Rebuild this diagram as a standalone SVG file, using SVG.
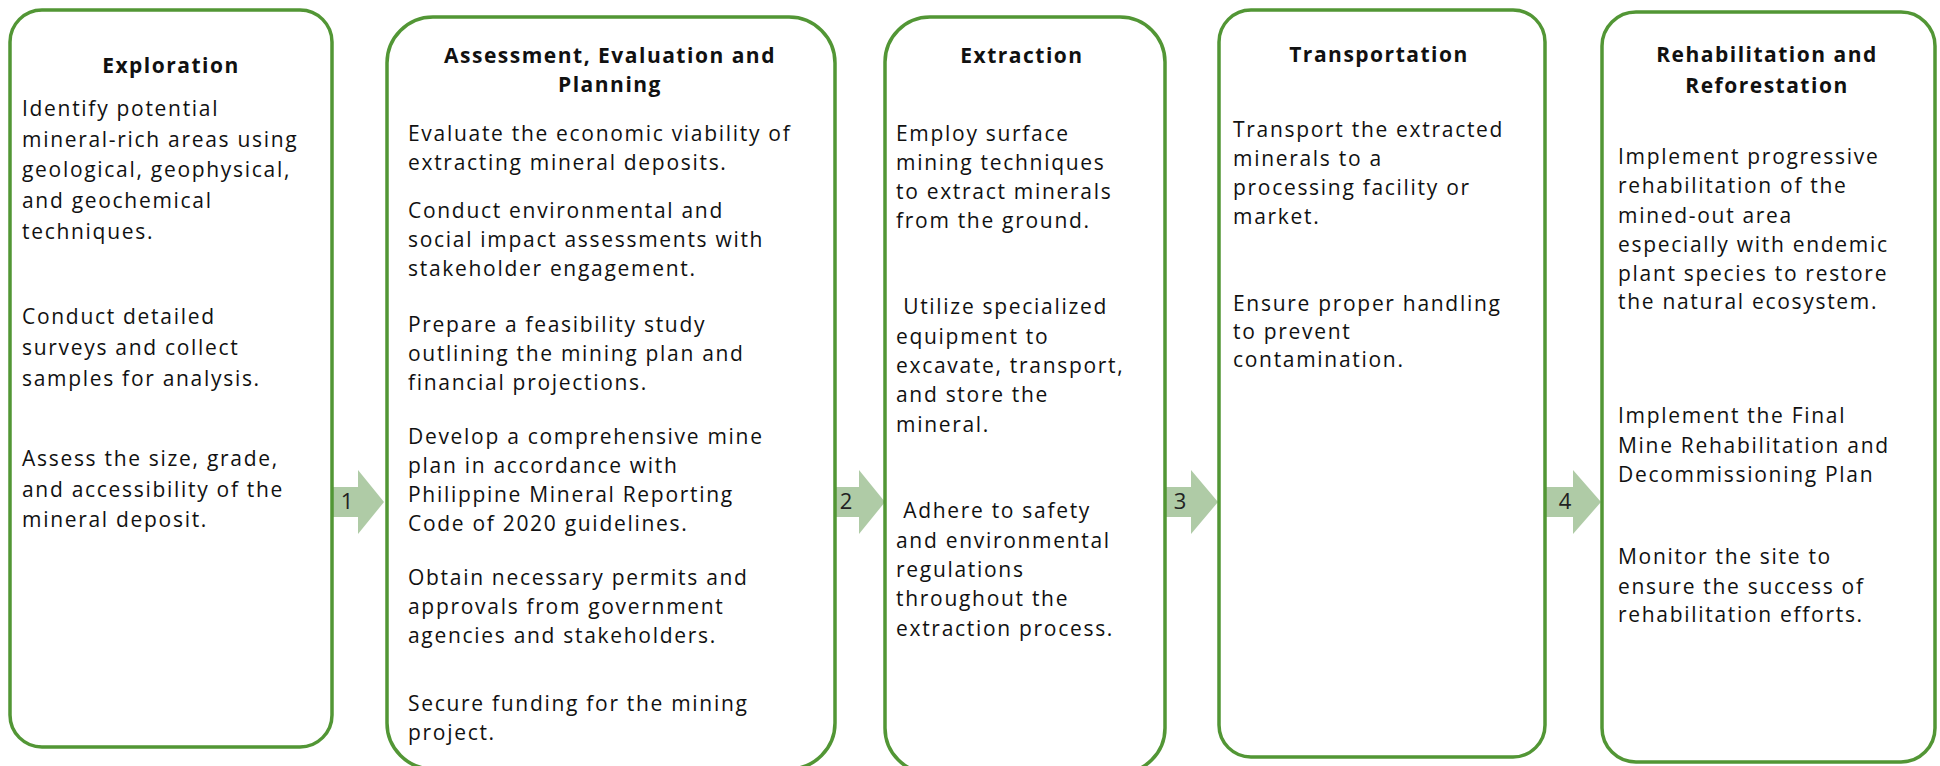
<svg xmlns="http://www.w3.org/2000/svg" width="1940" height="766" viewBox="0 0 1940 766">
<style>
.box{fill:#ffffff;stroke:#529635;stroke-width:3.5}
.t{font-family:"Open Sans","Liberation Sans",sans-serif;font-size:21px;letter-spacing:1.5px;font-weight:bold;fill:#111;text-anchor:middle}
.b{font-family:"Open Sans","Liberation Sans",sans-serif;font-size:21px;letter-spacing:1.7px;fill:#111}
.arr{fill:#afcba6}
.n{font-family:"Open Sans","Liberation Sans",sans-serif;font-size:22px;fill:#222;text-anchor:middle}
</style>
<rect width="1940" height="766" fill="#ffffff"/>
<g id="connectors">
<g id="c1"><polygon class="arr" points="333,487 358,487 358,470 384,502 358,534 358,517 333,517"/><text class="n" x="347" y="509">1</text></g>
<g id="c2"><polygon class="arr" points="836,487 859,487 859,470 885,502 859,534 859,517 836,517"/><text class="n" x="846" y="509">2</text></g>
<g id="c3"><polygon class="arr" points="1166,487 1191,487 1191,470 1218,502 1191,534 1191,517 1166,517"/><text class="n" x="1180" y="509">3</text></g>
<g id="c4"><polygon class="arr" points="1546,487 1573,487 1573,470 1601,502 1573,534 1573,517 1546,517"/><text class="n" x="1565" y="509">4</text></g>
</g>
<g id="exploration">
<rect class="box" x="10" y="10" width="322" height="737" rx="32"/>
<text class="t" x="171" y="73">Exploration</text>
<text class="b" x="22" y="116">Identify potential</text>
<text class="b" x="22" y="147">mineral-rich areas using</text>
<text class="b" x="22" y="177">geological, geophysical,</text>
<text class="b" x="22" y="208">and geochemical</text>
<text class="b" x="22" y="239">techniques.</text>
<text class="b" x="22" y="324">Conduct detailed</text>
<text class="b" x="22" y="355">surveys and collect</text>
<text class="b" x="22" y="386">samples for analysis.</text>
<text class="b" x="22" y="466">Assess the size, grade,</text>
<text class="b" x="22" y="497">and accessibility of the</text>
<text class="b" x="22" y="527">mineral deposit.</text>
</g>
<g id="assessment">
<rect class="box" x="387" y="17" width="448" height="752" rx="46"/>
<text class="t" x="610" y="63">Assessment, Evaluation and</text>
<text class="t" x="610" y="92">Planning</text>
<text class="b" x="408" y="141">Evaluate the economic viability of</text>
<text class="b" x="408" y="170">extracting mineral deposits.</text>
<text class="b" x="408" y="218">Conduct environmental and</text>
<text class="b" x="408" y="247">social impact assessments with</text>
<text class="b" x="408" y="276">stakeholder engagement.</text>
<text class="b" x="408" y="332">Prepare a feasibility study</text>
<text class="b" x="408" y="361">outlining the mining plan and</text>
<text class="b" x="408" y="390">financial projections.</text>
<text class="b" x="408" y="444">Develop a comprehensive mine</text>
<text class="b" x="408" y="473">plan in accordance with</text>
<text class="b" x="408" y="502">Philippine Mineral Reporting</text>
<text class="b" x="408" y="531">Code of 2020 guidelines.</text>
<text class="b" x="408" y="585">Obtain necessary permits and</text>
<text class="b" x="408" y="614">approvals from government</text>
<text class="b" x="408" y="643">agencies and stakeholders.</text>
<text class="b" x="408" y="711">Secure funding for the mining</text>
<text class="b" x="408" y="740">project.</text>
</g>
<g id="extraction">
<rect class="box" x="885" y="17" width="280" height="756" rx="45"/>
<text class="t" x="1022" y="63">Extraction</text>
<text class="b" x="896" y="141">Employ surface</text>
<text class="b" x="896" y="170">mining techniques</text>
<text class="b" x="896" y="199">to extract minerals</text>
<text class="b" x="896" y="228">from the ground.</text>
<text class="b" x="896" y="314" xml:space="preserve"> Utilize specialized</text>
<text class="b" x="896" y="344">equipment to</text>
<text class="b" x="896" y="373">excavate, transport,</text>
<text class="b" x="896" y="402">and store the</text>
<text class="b" x="896" y="432">mineral.</text>
<text class="b" x="896" y="518" xml:space="preserve"> Adhere to safety</text>
<text class="b" x="896" y="548">and environmental</text>
<text class="b" x="896" y="577">regulations</text>
<text class="b" x="896" y="606">throughout the</text>
<text class="b" x="896" y="636">extraction process.</text>
</g>
<g id="transportation">
<rect class="box" x="1219" y="10" width="326" height="747" rx="32"/>
<text class="t" x="1379" y="62">Transportation</text>
<text class="b" x="1233" y="137">Transport the extracted</text>
<text class="b" x="1233" y="166">minerals to a</text>
<text class="b" x="1233" y="195">processing facility or</text>
<text class="b" x="1233" y="224">market.</text>
<text class="b" x="1233" y="311">Ensure proper handling</text>
<text class="b" x="1233" y="339">to prevent</text>
<text class="b" x="1233" y="367">contamination.</text>
</g>
<g id="rehabilitation">
<rect class="box" x="1602" y="12" width="333" height="750" rx="34"/>
<text class="t" x="1767" y="62">Rehabilitation and</text>
<text class="t" x="1767" y="93">Reforestation</text>
<text class="b" x="1618" y="164">Implement progressive</text>
<text class="b" x="1618" y="193">rehabilitation of the</text>
<text class="b" x="1618" y="223">mined-out area</text>
<text class="b" x="1618" y="252">especially with endemic</text>
<text class="b" x="1618" y="281">plant species to restore</text>
<text class="b" x="1618" y="309">the natural ecosystem.</text>
<text class="b" x="1618" y="423">Implement the Final</text>
<text class="b" x="1618" y="453">Mine Rehabilitation and</text>
<text class="b" x="1618" y="482">Decommissioning Plan</text>
<text class="b" x="1618" y="564">Monitor the site to</text>
<text class="b" x="1618" y="594">ensure the success of</text>
<text class="b" x="1618" y="622">rehabilitation efforts.</text>
</g>
</svg>
